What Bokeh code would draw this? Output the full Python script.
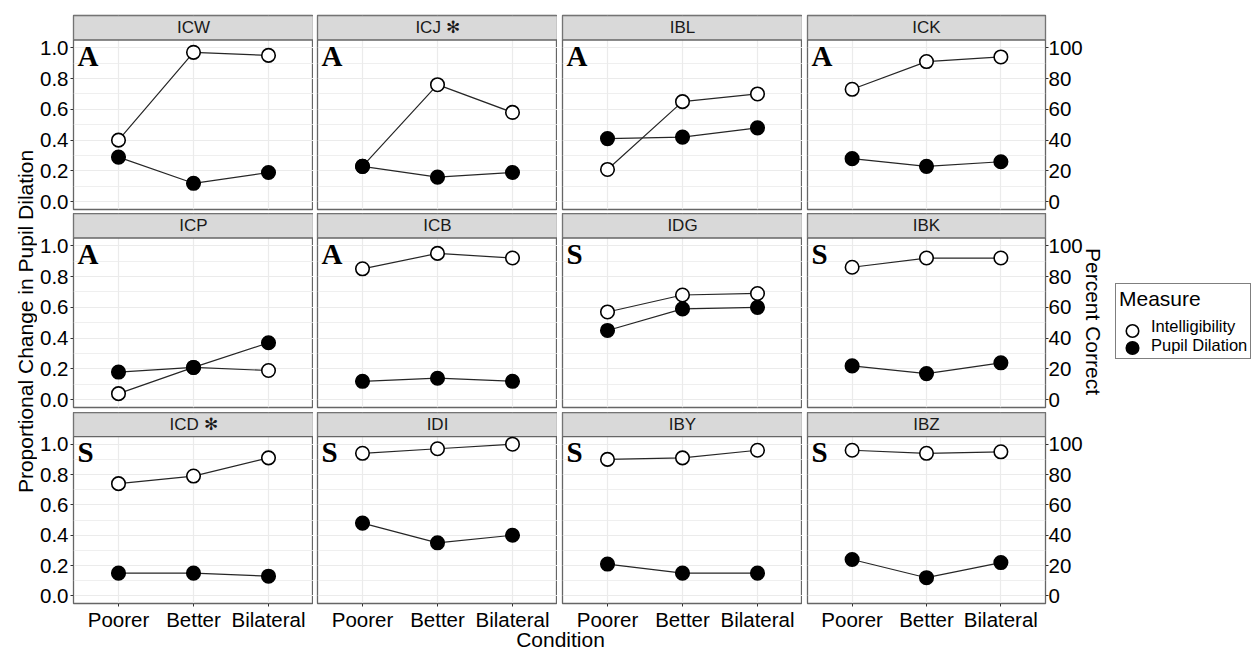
import math
from bokeh.plotting import figure
from bokeh.layouts import row, column
from bokeh.models import (Range1d, FixedTicker, PrintfTickFormatter, LinearAxis, Label,
                          Legend, LegendItem, ColumnDataSource)
from bokeh.core.properties import value
from bokeh.embed import file_html
from bokeh.resources import INLINE

# ---------------- data ----------------
conditions = ["Poorer", "Better", "Bilateral"]
participants = ["ICW", "ICJ", "IBL", "ICK", "ICP", "ICB", "IDG", "IBK", "ICD", "IDI", "IBY", "IBZ"]
groups = ["A", "A", "A", "A", "A", "A", "S", "S", "S", "S", "S", "S"]
flagged = ["ICJ", "ICD"]
measures = ["Intelligibility", "Pupil Dilation"]
intelligibility = [
    [0.40, 0.97, 0.95],  # ICW
    [0.23, 0.76, 0.58],  # ICJ
    [0.21, 0.65, 0.70],  # IBL
    [0.73, 0.91, 0.94],  # ICK
    [0.04, 0.21, 0.19],  # ICP
    [0.85, 0.95, 0.92],  # ICB
    [0.57, 0.68, 0.69],  # IDG
    [0.86, 0.92, 0.92],  # IBK
    [0.74, 0.79, 0.91],  # ICD
    [0.94, 0.97, 1.00],  # IDI
    [0.90, 0.91, 0.96],  # IBY
    [0.96, 0.94, 0.95],  # IBZ
]
pupil_dilation = [
    [0.29, 0.12, 0.19],  # ICW
    [0.23, 0.16, 0.19],  # ICJ
    [0.41, 0.42, 0.48],  # IBL
    [0.28, 0.23, 0.26],  # ICK
    [0.18, 0.21, 0.37],  # ICP
    [0.12, 0.14, 0.12],  # ICB
    [0.45, 0.59, 0.60],  # IDG
    [0.22, 0.17, 0.24],  # IBK
    [0.15, 0.15, 0.13],  # ICD
    [0.48, 0.35, 0.40],  # IDI
    [0.21, 0.15, 0.15],  # IBY
    [0.24, 0.12, 0.22],  # IBZ
]
y_ticks = [0.0, 0.2, 0.4, 0.6, 0.8, 1.0]
y_minor_ticks = [0.1, 0.3, 0.5, 0.7, 0.9]
pct_ticks = [0, 20, 40, 60, 80, 100]

# ---------------- style / geometry ----------------
FONT = "Liberation Sans"
SERIF = "Liberation Serif"
BORDER = "#666666"
GRID = "#ebebeb"
LINE = "#262626"
TICK_FS = "20.5px"
TITLE_FS = "21px"
NCOL = 4
FRAME_W, FRAME_H = 240, 194
STRIP_PX = 24.5
Y_LO, Y_HI = -0.05, 1.05
UNIT = (FRAME_H - STRIP_PX) / (Y_HI - Y_LO)
Y_TOP = Y_LO + FRAME_H / UNIT
X_LO, X_HI = 0.4, 3.6
PX_X = FRAME_W / (X_HI - X_LO)

col_left = [36, 4, 5, 5]
col_right = [0, 0, 0, 38]
row_top = [15, 0, 0]
row_bottom = [4, 5, 27]
LEFT_W = 37
TOTAL_W = 1253
TOTAL_H = 651
GRID_W = sum(col_left) + NCOL * FRAME_W + sum(col_right)
RIGHT_W = TOTAL_W - LEFT_W - GRID_W
BOTTOM_H = TOTAL_H - sum(row_top) - 3 * FRAME_H - sum(row_bottom)
OVERLAP_B = 12   # transparent title strips overlap the axis margins a little
OVERLAP_R = 8

xs = [k + 1 for k in range(len(conditions))]


def style_axis(ax):
    ax.axis_line_color = None
    ax.major_tick_line_color = "#333333"
    ax.major_tick_out = 3
    ax.major_tick_in = 0
    ax.minor_tick_line_color = None
    ax.major_label_text_font = FONT
    ax.major_label_text_font_size = TICK_FS
    ax.major_label_text_color = "black"
    ax.major_label_standoff = 0


def make_panel(i):
    r, c = divmod(i, NCOL)
    p = figure(width=col_left[c] + FRAME_W + col_right[c],
               height=row_top[r] + FRAME_H + row_bottom[r],
               x_range=Range1d(X_LO, X_HI), y_range=Range1d(Y_LO, Y_TOP),
               output_backend="svg", toolbar_location=None,
               x_axis_location="below" if r == 2 else None,
               y_axis_location="left" if c == 0 else None,
               min_border_left=col_left[c], min_border_right=col_right[c],
               min_border_top=row_top[r], min_border_bottom=row_bottom[r])
    p.background_fill_color = "white"
    p.border_fill_color = "white"
    p.outline_line_color = BORDER
    p.outline_line_width = 1.3

    xt = FixedTicker(ticks=xs)
    yt = FixedTicker(ticks=y_ticks, minor_ticks=y_minor_ticks)
    p.xgrid.ticker = xt
    p.ygrid.ticker = yt
    p.xgrid.grid_line_color = GRID
    p.ygrid.grid_line_color = GRID
    p.xgrid.grid_line_width = 1.2
    p.ygrid.grid_line_width = 1.2
    p.ygrid.minor_grid_line_color = GRID
    p.ygrid.minor_grid_line_width = 0.8

    if r == 2:
        p.xaxis.ticker = xt
        p.xaxis.major_label_overrides = {x: lab for x, lab in zip(xs, conditions)}
        style_axis(p.xaxis[0])
        p.xaxis.major_label_standoff = 1
    if c == 0:
        p.yaxis.ticker = yt
        p.yaxis.formatter = PrintfTickFormatter(format="%.1f")
        style_axis(p.yaxis[0])
        p.yaxis.major_label_standoff = 1
    if c == NCOL - 1:
        p.extra_y_ranges = {"pct": Range1d(Y_LO * 100, Y_TOP * 100)}
        ax = LinearAxis(y_range_name="pct", ticker=FixedTicker(ticks=pct_ticks))
        style_axis(ax)
        p.add_layout(ax, "right")

    # facet strip
    p.quad(left=X_LO, right=X_HI, bottom=Y_HI, top=Y_TOP,
           fill_color="#d9d9d9", line_color=BORDER, line_width=1.3)
    name = participants[i] + (" \u273b" if participants[i] in flagged else "")
    p.text(x=[(X_LO + X_HI) / 2], y=[(Y_HI + Y_TOP) / 2], text=[name],
           text_align="center", text_baseline="middle",
           text_font=value(FONT), text_font_size="17px", text_color="#1a1a1a")

    # group letter
    p.add_layout(Label(x=X_LO + 4 / PX_X, y=Y_HI - 16 / UNIT, text=groups[i],
                       text_font=SERIF, text_font_style="bold", text_font_size="29px",
                       text_color="black", text_align="left", text_baseline="middle"))

    src_i = ColumnDataSource(dict(x=xs, y=intelligibility[i]))
    src_p = ColumnDataSource(dict(x=xs, y=pupil_dilation[i]))
    p.line("x", "y", source=src_i, line_color=LINE, line_width=1.2)
    p.line("x", "y", source=src_p, line_color=LINE, line_width=1.2)
    p.scatter("x", "y", source=src_i, size=13.5, marker="circle",
              fill_color="white", line_color="black", line_width=1.6)
    p.scatter("x", "y", source=src_p, size=13.5, marker="circle",
              fill_color="black", line_color="black", line_width=1.6)
    return p


def blank(width, height, transparent=False, margin=None):
    kw = {} if margin is None else {"margin": margin}
    f = figure(width=width, height=height, x_range=Range1d(0, width), y_range=Range1d(0, height),
               output_backend="svg", toolbar_location=None,
               x_axis_location=None, y_axis_location=None,
               min_border_left=0, min_border_right=0, min_border_top=0, min_border_bottom=0, **kw)
    f.xgrid.visible = False
    f.ygrid.visible = False
    f.outline_line_color = None
    f.background_fill_color = "white"
    f.border_fill_color = "white"
    if transparent:
        f.background_fill_alpha = 0
        f.border_fill_alpha = 0
    return f


panels = [make_panel(i) for i in range(len(participants))]
grid_rows = [row(*panels[r * NCOL:(r + 1) * NCOL]) for r in range(3)]
TITLE_Y = TOTAL_H - 321

# x-axis title (transparent strip that overlaps the tick-label margin slightly)
bottom = blank(GRID_W, BOTTOM_H + OVERLAP_B, transparent=True, margin=(-OVERLAP_B, 0, 0, 0))
bottom.add_layout(Label(x=(col_left[0] + GRID_W - col_right[-1]) / 2, y=12.5,
                        text="Condition", text_font=FONT, text_font_size=TITLE_FS,
                        text_color="black", text_align="center", text_baseline="middle"))

# left y-axis title
left = blank(LEFT_W, TOTAL_H)
left.add_layout(Label(x=24.5, y=TITLE_Y, text="Proportional Change in Pupil Dilation",
                      angle=math.pi / 2, text_font=FONT, text_font_size=TITLE_FS,
                      text_color="black", text_align="center", text_baseline="middle"))

# right y-axis title and legend
RW = RIGHT_W + OVERLAP_R
right = blank(RW, TOTAL_H, transparent=True, margin=(0, 0, 0, -OVERLAP_R))
right.add_layout(Label(x=8 + OVERLAP_R, y=TITLE_Y, text="Percent Correct",
                       angle=-math.pi / 2, text_font=FONT, text_font_size=TITLE_FS,
                       text_color="black", text_align="center", text_baseline="middle"))

LEG_X, LEG_Y = 30 + OVERLAP_R, 292          # bottom-left corner of the legend box (screen px)
LEG_PAD, LEG_GW, LEG_GH = 3, 28, 17
r_int = right.scatter(x=[], y=[], marker="circle", fill_color="white",
                      line_color="black", line_width=1.6)
r_pup = right.scatter(x=[], y=[], marker="circle", fill_color="black",
                      line_color="black", line_width=1.6)
legend = Legend(items=[LegendItem(label=measures[0], renderers=[r_int]),
                       LegendItem(label=measures[1], renderers=[r_pup])],
                location=(LEG_X, LEG_Y), title="Measure",
                title_text_font=FONT, title_text_font_size="21px", title_text_font_style="normal",
                title_text_color="black", title_standoff=6,
                label_text_font=FONT, label_text_font_size="16.5px", label_text_color="black",
                glyph_width=LEG_GW, glyph_height=LEG_GH, spacing=0, padding=LEG_PAD, margin=0,
                label_standoff=4, border_line_color="black", border_line_width=1,
                background_fill_color="white", background_fill_alpha=0)
right.add_layout(legend)
# legend keys drawn at full marker size (Bokeh shrinks legend markers to 40% of the glyph box)
key_x = LEG_X + LEG_PAD + LEG_GW / 2
key_src = ColumnDataSource(dict(
    x=[key_x, key_x],
    y=[LEG_Y + LEG_PAD + LEG_GH * 1.5, LEG_Y + LEG_PAD + LEG_GH * 0.5],
    fill=["white", "black"]))
right.scatter("x", "y", source=key_src, marker="circle", size=12.5,
              fill_color="fill", line_color="black", line_width=1.6)

layout = row(left, column(*grid_rows, bottom), right)
open("out.html", "w").write(file_html(layout, INLINE))
